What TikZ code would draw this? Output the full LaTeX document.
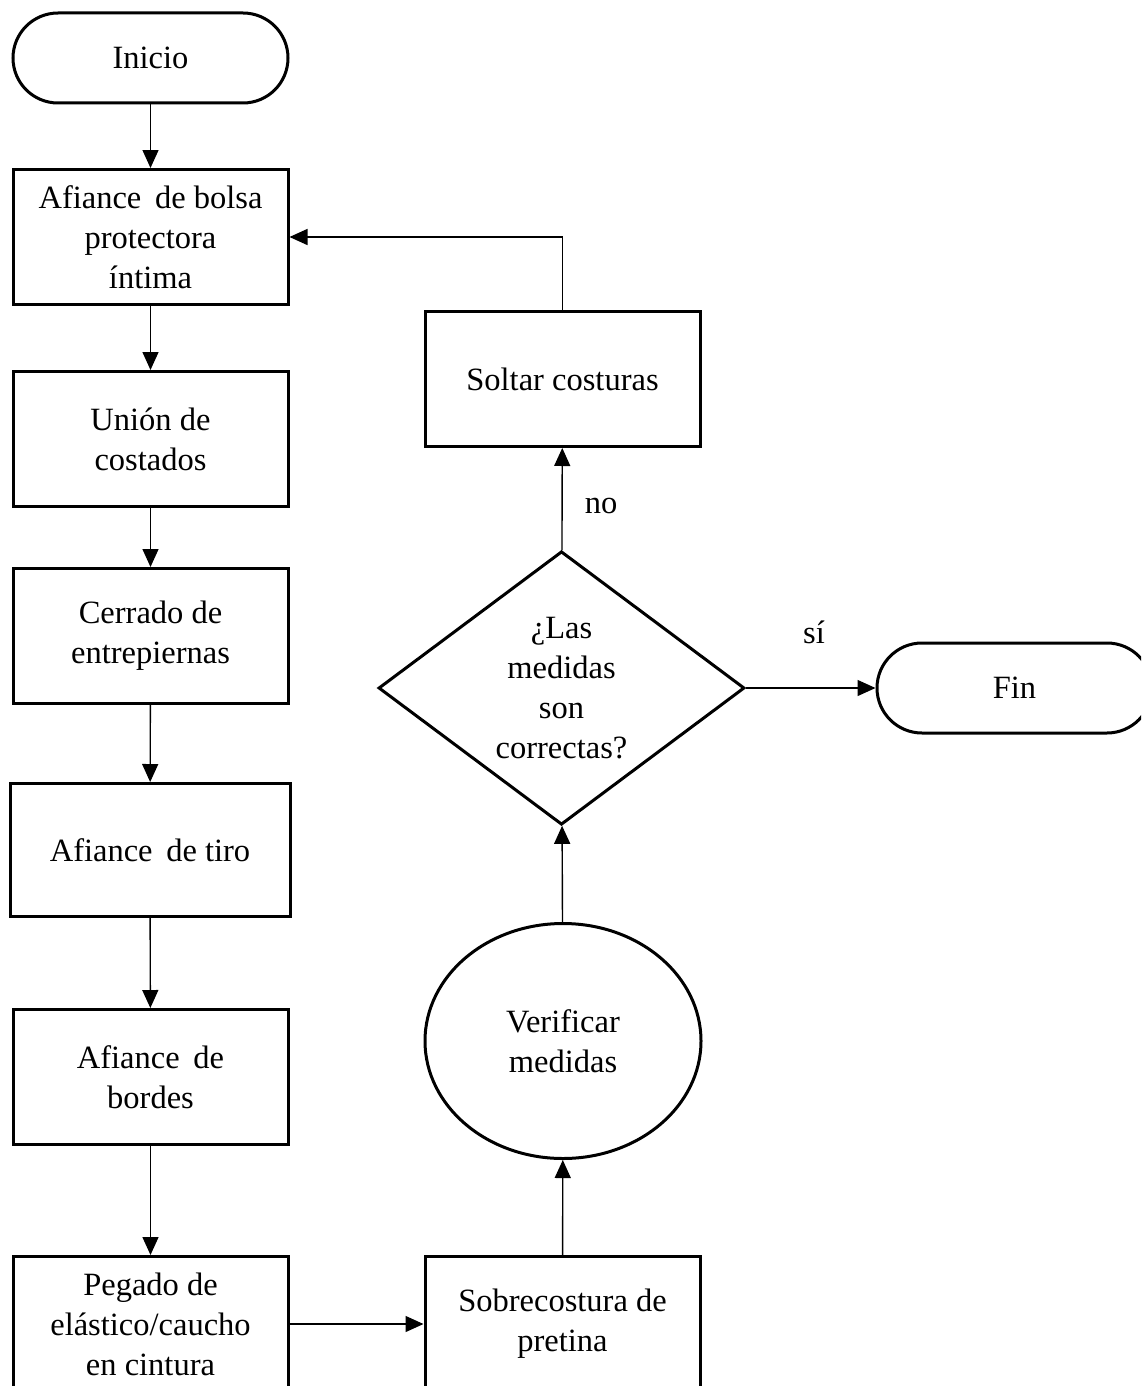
\documentclass[tikz,border=0pt]{standalone}
\usepackage{fontspec}
\setmainfont{Liberation Serif}
\usetikzlibrary{shapes.misc,shapes.geometric,arrows.meta}
\tikzset{
  base/.style={draw, line width=3pt, align=center, inner sep=0pt,
    font=\fontsize{32.5}{40}\selectfont},
  procbox/.style={base, rectangle, minimum width=275pt, minimum height=135pt},
  term/.style={base, rounded rectangle, minimum width=275pt, minimum height=90pt},
  decide/.style={base, diamond, minimum width=366pt, minimum height=259pt},
  oval/.style={base, ellipse, minimum width=276pt, minimum height=235pt},
  conn/.style={line width=1.4pt, -{Triangle[width=16pt,length=18pt]}},
  lbl/.style={font=\fontsize{32.5}{40}\selectfont, inner sep=0pt}
}
\newcommand{\wsp}{\hspace{0.42em}}
\begin{document}
\begin{tikzpicture}[x=1pt,y=-1pt]
\useasboundingbox (0,0) rectangle (1141,1386);
\clip (0,0) rectangle (1141,1386);
\fill[white] (0,0) rectangle (1141,1386);

\node[term] (inicio) at (150.5,58) {Inicio};
\node[procbox] (bolsa) at (150.5,237) {Afiance\wsp de bolsa\\protectora\\íntima};
\node[procbox] (union) at (150.5,439) {Unión de\\costados};
\node[procbox] (cerrado) at (150.5,636) {Cerrado de\\entrepiernas};
\node[procbox, minimum width=280pt, minimum height=133pt] (tiro) at (150,850) {Afiance\wsp de tiro};
\node[procbox] (bordes) at (150.5,1077) {Afiance\wsp de\\bordes};
\node[procbox] (pegado) at (150.5,1324) {Pegado de\\elástico/caucho\\en cintura};
\node[procbox] (sobre) at (562.5,1324) {Sobrecostura de\\pretina};
\node[oval] (verif) at (563,1041) {Verificar\\medidas};
\node[decide] (dec) at (561.5,688) {¿Las\\medidas\\son\\correctas?};
\node[procbox] (soltar) at (562.5,379) {Soltar costuras};
\node[term] (fin) at (1014.5,688) {Fin};

\coordinate (corner) at (562.5,237);

\draw[conn] (inicio) -- (bolsa);
\draw[conn] (bolsa) -- (union);
\draw[conn] (union) -- (cerrado);
\draw[conn] (cerrado) -- (tiro);
\draw[conn] (tiro) -- (bordes);
\draw[conn] (bordes) -- (pegado);
\draw[conn] (pegado) -- (sobre);
\draw[conn] (sobre) -- (verif);
\draw[conn] (verif) -- (dec);
\draw[conn] (dec) -- (soltar);
\draw[conn] (dec) -- (fin);
\draw[conn] (soltar.north) -- (corner) -- (bolsa.east |- corner);

\node[lbl] (no) at (601,506) {no};
\node[lbl] (si) at (814,632) {sí};
\end{tikzpicture}
\end{document}
